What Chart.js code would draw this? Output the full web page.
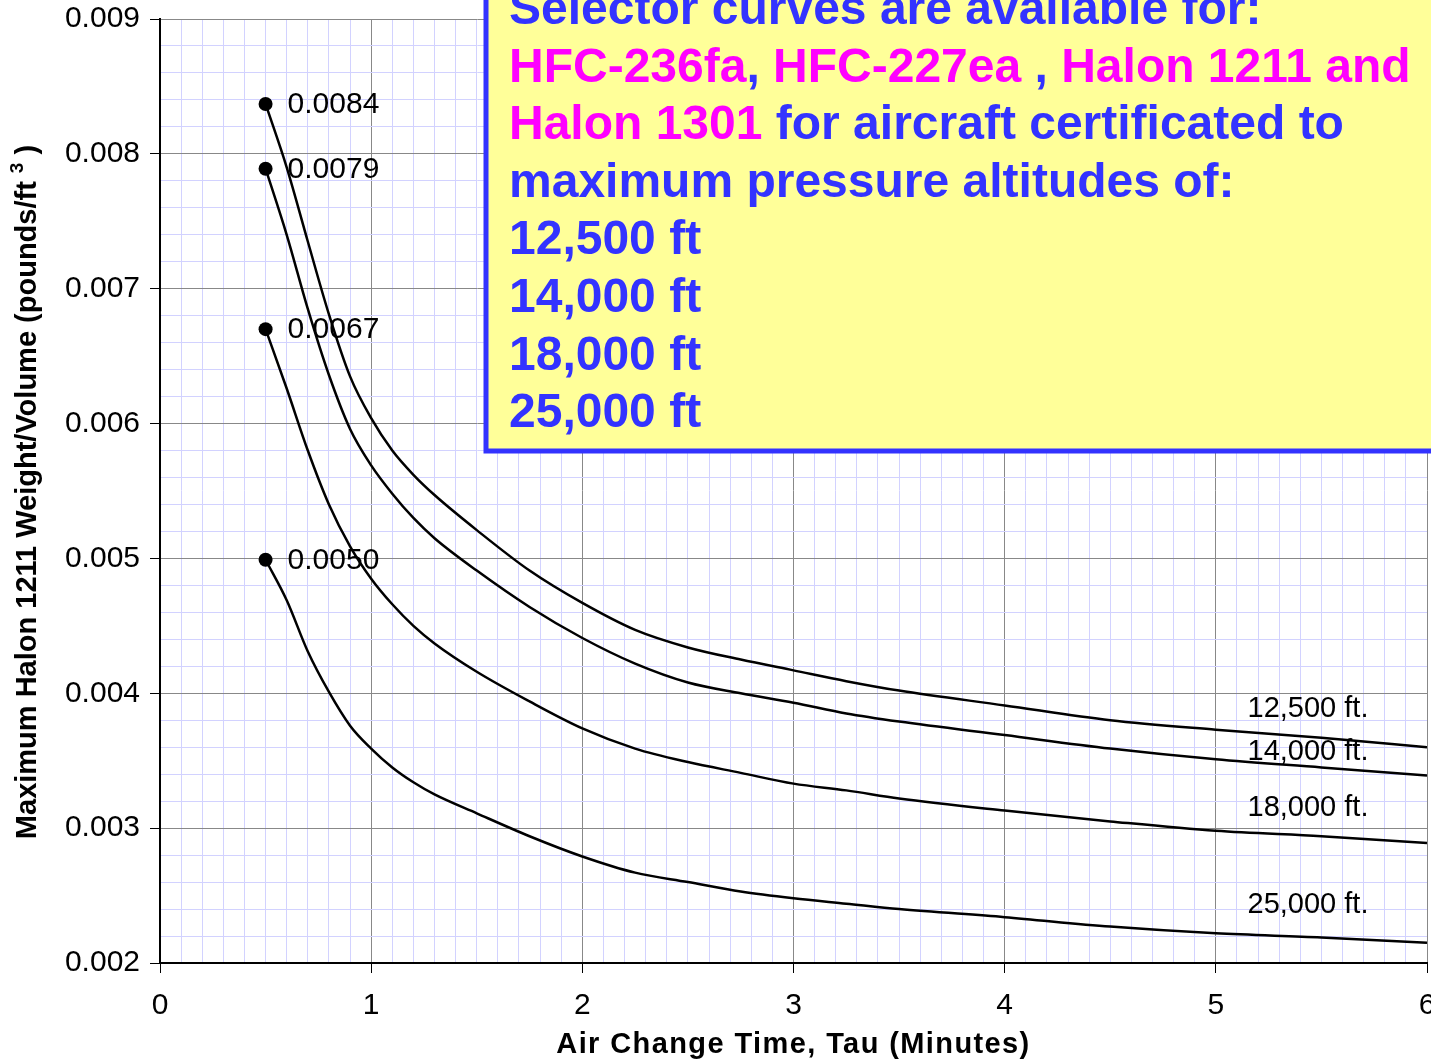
<!DOCTYPE html>
<html>
<head>
<meta charset="utf-8">
<script src="https://cdn.jsdelivr.net/npm/chart.js@4"></script>
<style>
  html, body { margin: 0; background: #fff; overflow: hidden; }
  canvas { display: block; }
</style>
</head>
<body>
<canvas id="myLine" width="1434" height="1060"></canvas>
<script>
// air change time (minutes)
const tau = [0.5, 0.6, 0.7, 0.8, 0.9, 1.0, 1.1, 1.2, 1.3, 1.5, 1.75, 2.0, 2.25, 2.5, 2.75, 3.0, 3.25, 3.5, 4.0, 4.5, 5.0, 5.5, 6.0]

// max halon 1211 weight/volume, one list per certificated altitude
const alt12500 = [0.00837, 0.0079, 0.00735, 0.00681, 0.00635, 0.00604, 0.0058, 0.00562, 0.00547, 0.00521, 0.00491, 0.00467, 0.00447, 0.00434, 0.00425, 0.00417, 0.00409, 0.00402, 0.00391, 0.0038, 0.00373, 0.00367, 0.0036]
const alt14000 = [0.00789, 0.0074, 0.00685, 0.00636, 0.00596, 0.00569, 0.00548, 0.0053, 0.00515, 0.00491, 0.00464, 0.00441, 0.00422, 0.00408, 0.004, 0.00393, 0.00385, 0.00379, 0.00369, 0.00359, 0.00351, 0.00345, 0.00339]
const alt18000 = [0.0067, 0.00626, 0.0058, 0.0054, 0.00509, 0.00485, 0.00466, 0.0045, 0.00437, 0.00416, 0.00394, 0.00374, 0.00359, 0.00349, 0.00341, 0.00333, 0.00328, 0.00322, 0.00313, 0.00305, 0.00298, 0.00294, 0.00289]
const alt25000 = [0.00499, 0.00469, 0.00431, 0.00401, 0.00376, 0.00359, 0.00345, 0.00334, 0.00325, 0.00311, 0.00294, 0.00279, 0.00267, 0.0026, 0.00253, 0.00248, 0.00244, 0.0024, 0.00234, 0.00227, 0.00222, 0.00219, 0.00215]

const curveNames = ["12,500 ft.", "14,000 ft.", "18,000 ft.", "25,000 ft."]
const curveSeries = [alt12500, alt14000, alt18000, alt25000]

// where the curve names sit (data units)
const nameX = 5.15
const nameY = [0.00388, 0.003565, 0.00315, 0.00243]

const xTitle = "Air Change Time, Tau (Minutes)"
const yTitle = "Maximum Halon 1211 Weight/Volume (pounds/ft"

const BLUE = '#3333ff'
const PINK = '#ff00ff'
const noteLines = [
    [["Selector curves are available for:", BLUE]],
    [["HFC-236fa", PINK], [", ", BLUE], ["HFC-227ea", PINK], [" , ", BLUE], ["Halon 1211 and", PINK]],
    [["Halon 1301", PINK], [" for aircraft certificated to", BLUE]],
    [["maximum pressure altitudes of:", BLUE]],
    [["12,500 ft", BLUE]],
    [["14,000 ft", BLUE]],
    [["18,000 ft", BLUE]],
    [["25,000 ft", BLUE]]
]

const FONT = '"Liberation Sans", Arial, sans-serif'

function isMajor(v, unit) {
    return Math.abs(v / unit - Math.round(v / unit)) < 1e-6
}

const decor = {
    id: 'decor',
    afterDatasetsDraw(chart) {
        const ctx = chart.ctx
        const xs = chart.scales.x
        const ys = chart.scales.y
        ctx.save()
        ctx.fillStyle = '#000'
        ctx.font = '30px ' + FONT
        ctx.textAlign = 'left'
        ctx.textBaseline = 'middle'
        // starting values next to the dots
        chart.data.datasets.forEach((ds) => {
            let p = ds.data[0]
            ctx.fillText(p.y.toFixed(4), xs.getPixelForValue(p.x) + 22, ys.getPixelForValue(p.y) + 1)
        })
        // curve names
        ctx.font = '29px ' + FONT
        curveNames.forEach((name, i) => {
            ctx.fillText(name, xs.getPixelForValue(nameX), ys.getPixelForValue(nameY[i]))
        })

        // axis titles
        ctx.font = 'bold 29px ' + FONT
        ctx.letterSpacing = '1.4px'
        ctx.textAlign = 'center'
        ctx.textBaseline = 'alphabetic'
        ctx.fillText(xTitle, (chart.chartArea.left + chart.chartArea.right) / 2, 1053)

        ctx.letterSpacing = '0px'
        ctx.translate(36, 492)
        ctx.rotate(-Math.PI / 2)
        ctx.textAlign = 'left'
        let w1 = ctx.measureText(yTitle + " ").width
        let w3 = ctx.measureText(" )").width
        ctx.font = 'bold 19px ' + FONT
        let w2 = ctx.measureText("3").width
        let start = -(w1 + w2 + w3) / 2
        ctx.font = 'bold 29px ' + FONT
        ctx.fillText(yTitle + " ", start, 0)
        ctx.fillText(" )", start + w1 + w2, 0)
        ctx.font = 'bold 19px ' + FONT
        ctx.fillText("3", start + w1, -13)
        ctx.restore()

        // yellow note box
        ctx.save()
        ctx.fillStyle = '#ffff99'
        ctx.strokeStyle = BLUE
        ctx.lineWidth = 5
        ctx.fillRect(486, -20, 1000, 471)
        ctx.strokeRect(486, -20, 1000, 471)
        ctx.font = 'bold 48px ' + FONT
        ctx.textAlign = 'left'
        ctx.textBaseline = 'alphabetic'
        noteLines.forEach((line, i) => {
            let x = 509
            let y = 24 + i * 57.6
            line.forEach(([txt, col]) => {
                ctx.fillStyle = col
                ctx.fillText(txt, x, y)
                x += ctx.measureText(txt).width
            })
        })
        ctx.restore()
    }
}

const cvs = document.getElementById('myLine')
new Chart(cvs, {
    type: 'line',
    data: {
        datasets: curveSeries.map((vals, k) => ({
            label: curveNames[k],
            data: tau.map((t, i) => ({ x: t, y: vals[i] })),
            borderColor: '#000',
            borderWidth: 2.5,
            backgroundColor: '#000',
            pointRadius: ctx => ctx.dataIndex === 0 ? 7 : 0,
            pointBorderWidth: 0,
            cubicInterpolationMode: 'monotone',
            fill: false
        }))
    },
    options: {
        responsive: false,
        animation: false,
        devicePixelRatio: 1,
        layout: { padding: { top: 19, right: 1, left: 0, bottom: 0 } },
        plugins: {
            legend: { display: false },
            tooltip: { enabled: false }
        },
        scales: {
            x: {
                type: 'linear',
                min: 0,
                max: 6,
                border: { color: '#000', width: 2 },
                grid: {
                    color: ctx => isMajor(ctx.tick.value, 1) ? '#888888' : '#d2d2ff',
                    tickColor: ctx => isMajor(ctx.tick.value, 1) ? '#000' : 'rgba(0,0,0,0)',
                    tickLength: 10,
                    lineWidth: 1
                },
                ticks: {
                    stepSize: 0.1,
                    autoSkip: false,
                    maxRotation: 0,
                    padding: 15,
                    color: '#000',
                    font: { family: FONT, size: 30 },
                    callback: v => isMajor(v, 1) ? String(Math.round(v)) : ''
                },
                afterFit: s => {
                    s.height = 97
                    s.paddingLeft = 0
                    s.paddingRight = 0
                }
            },
            y: {
                min: 0.002,
                max: 0.009,
                border: { color: '#000', width: 2 },
                grid: {
                    color: ctx => isMajor(ctx.tick.value, 0.001) ? '#888888' : '#d2d2ff',
                    tickColor: ctx => isMajor(ctx.tick.value, 0.001) ? '#000' : 'rgba(0,0,0,0)',
                    tickLength: 10,
                    lineWidth: 1
                },
                ticks: {
                    stepSize: 0.0002,
                    autoSkip: false,
                    padding: 10,
                    color: '#000',
                    font: { family: FONT, size: 30 },
                    callback: v => isMajor(v, 0.001) ? v.toFixed(3) : ''
                },
                afterFit: s => {
                    s.width = 160
                    s.paddingTop = 0
                    s.paddingBottom = 0
                }
            }
        }
    },
    plugins: [decor]
})
</script>
</body>
</html>
